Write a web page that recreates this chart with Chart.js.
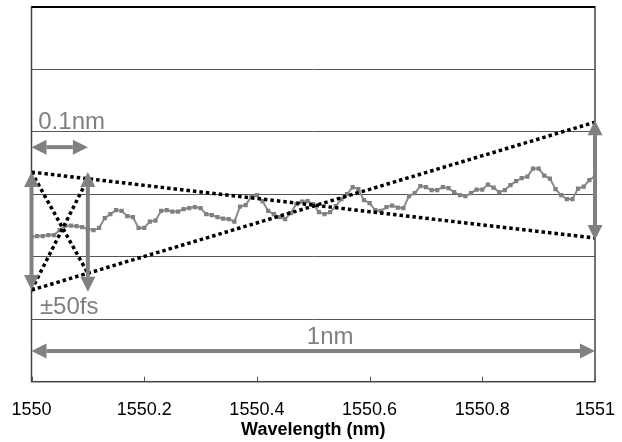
<!DOCTYPE html>
<html>
<head>
<meta charset="utf-8">
<script src="https://cdn.jsdelivr.net/npm/chart.js@4.4.0/dist/chart.umd.min.js"></script>
<style>
  html, body { margin: 0; padding: 0; background: #fff; }
</style>
</head>
<body>
<canvas id="chart" width="622" height="442"></canvas>
<script>
// measured group delay (fs) vs wavelength (nm)
const wavelengths = [
  1550.00, 1550.01, 1550.02, 1550.03, 1550.04, 1550.05, 1550.06, 1550.07, 1550.08, 1550.09,
  1550.10, 1550.11, 1550.12, 1550.13, 1550.14, 1550.15, 1550.16, 1550.17, 1550.18, 1550.19,
  1550.20, 1550.21, 1550.22, 1550.23, 1550.24, 1550.25, 1550.26, 1550.27, 1550.28, 1550.29,
  1550.30, 1550.31, 1550.32, 1550.33, 1550.34, 1550.35, 1550.36, 1550.37, 1550.38, 1550.39,
  1550.40, 1550.41, 1550.42, 1550.43, 1550.44, 1550.45, 1550.46, 1550.47, 1550.48, 1550.49,
  1550.50, 1550.51, 1550.52, 1550.53, 1550.54, 1550.55, 1550.56, 1550.57, 1550.58, 1550.59,
  1550.60, 1550.61, 1550.62, 1550.63, 1550.64, 1550.65, 1550.66, 1550.67, 1550.68, 1550.69,
  1550.70, 1550.71, 1550.72, 1550.73, 1550.74, 1550.75, 1550.76, 1550.77, 1550.78, 1550.79,
  1550.80, 1550.81, 1550.82, 1550.83, 1550.84, 1550.85, 1550.86, 1550.87, 1550.88, 1550.89,
  1550.90, 1550.91, 1550.92, 1550.93, 1550.94, 1550.95, 1550.96, 1550.97, 1550.98, 1550.99,
  1551.00
];
const delay = [
  -34.2, -33.4, -33.4, -32.6, -32.6, -28.6, -25.1, -25.1, -25.5, -26.2,
  -27.8, -28.6, -26.9, -19.0, -15.8, -12.6, -13.3, -17.4, -18.2, -26.9,
  -26.9, -21.8, -21.0, -13.3, -12.6, -13.8, -13.8, -11.8, -11.0, -10.2,
  -11.0, -15.8, -16.6, -18.2, -19.4, -19.8, -21.8, -9.8, -8.6, -1.8,
  -0.6, -5.4, -13.3, -15.8, -18.2, -19.8, -15.0, -7.8, -5.8, -5.4,
  -7.8, -14.2, -15.8, -14.2, -9.4, -3.8, 0.2, 5.8, 4.2, -4.6,
  -7.0, -12.6, -13.3, -10.2, -9.0, -10.6, -11.0, -1.4, 1.0, 6.6,
  5.8, 3.4, 3.4, 5.8, 5.0, 1.8, -0.6, -1.4, 1.0, 3.8,
  3.8, 7.8, 5.4, 1.8, 3.4, 7.4, 10.6, 13.0, 14.2, 20.6,
  20.6, 15.0, 12.6, 4.2, -0.6, -3.8, -3.8, 4.6, 6.2, 11.4,
  14.6
];

// dotted limit lines (x in nm, y in fs)
const fallX = [1550, 1551];
const fallY = [17.8, -35.0];
const riseX = [1550, 1551];
const riseY = [-76.6, 57.8];
const crossAX = [1550, 1550.1];
const crossAY = [17.8, -63.2];
const crossBX = [1550, 1550.1];
const crossBY = [-76.6, 12.5];

// double arrows: [x1, y1, x2, y2] in data units
const arrows = [
  [1550, 17.8, 1550, -76.6],
  [1550.1, 17.8, 1550.1, -78],
  [1551, 59.4, 1551, -36.6],
  [1550, 37.8, 1550.1, 37.8],
  [1550, -125.4, 1551, -125.4]
];
const noteText = ['0.1nm', '\u00b150fs', '1nm'];
const noteX = [1550.012, 1550.015, 1550.53];
const noteY = [57.8, -90.2, -114.2];

function pts(xs, ys) {
  return xs.map((v, i) => ({ x: v, y: ys[i] }));
}

function drawArrow(ctx, x1, y1, x2, y2) {
  const head = 15, half = 7.5;
  const ang = Math.atan2(y2 - y1, x2 - x1);
  const cos = Math.cos(ang), sin = Math.sin(ang);
  ctx.beginPath();
  ctx.moveTo(x1 + cos * head, y1 + sin * head);
  ctx.lineTo(x2 - cos * head, y2 - sin * head);
  ctx.stroke();
  // heads
  [[x1, y1, 1], [x2, y2, -1]].forEach(([px, py, d]) => {
    const bx = px + cos * head * d, by = py + sin * head * d;
    ctx.beginPath();
    ctx.moveTo(px, py);
    ctx.lineTo(bx - sin * half, by + cos * half);
    ctx.lineTo(bx + sin * half, by - cos * half);
    ctx.closePath();
    ctx.fill();
  });
}

const overlay = {
  id: 'overlay',
  afterDatasetsDraw(chart) {
    const { ctx, chartArea: a, scales: { x, y } } = chart;
    ctx.save();
    // frame
    ctx.strokeStyle = '#444';
    ctx.lineWidth = 1.5;
    ctx.strokeRect(a.left, a.top, a.right - a.left, a.bottom - a.top);
    ctx.strokeStyle = '#000';
    ctx.lineWidth = 2;
    ctx.beginPath();
    ctx.moveTo(a.left, a.top);
    ctx.lineTo(a.right, a.top);
    ctx.stroke();
    // inward tick marks on the x axis
    ctx.strokeStyle = '#555';
    ctx.lineWidth = 1;
    x.ticks.forEach(t => {
      const px = Math.round(x.getPixelForValue(t.value)) + 0.5;
      ctx.beginPath();
      ctx.moveTo(px, a.bottom);
      ctx.lineTo(px, a.bottom - 5);
      ctx.stroke();
    });
    // arrows
    ctx.strokeStyle = '#808080';
    ctx.fillStyle = '#808080';
    ctx.lineWidth = 4;
    arrows.forEach(([x1, y1, x2, y2]) => {
      drawArrow(ctx,
        x.getPixelForValue(x1), y.getPixelForValue(y1),
        x.getPixelForValue(x2), y.getPixelForValue(y2));
    });
    // notes
    ctx.font = '24px "Liberation Sans", Arial, sans-serif';
    ctx.textBaseline = 'middle';
    noteText.forEach((txt, i) => {
      ctx.textAlign = i === 2 ? 'center' : 'left';
      ctx.fillText(txt, x.getPixelForValue(noteX[i]), y.getPixelForValue(noteY[i]));
    });
    ctx.restore();
  }
};

const dotted = {
  borderColor: '#000',
  borderWidth: 3.5,
  borderDash: [3.5, 3],
  pointRadius: 0,
  fill: false
};

new Chart(document.getElementById('chart'), {
  type: 'line',
  data: {
    datasets: [
      Object.assign({ label: 'fall', data: pts(fallX, fallY) }, dotted),
      Object.assign({ label: 'rise', data: pts(riseX, riseY) }, dotted),
      Object.assign({ label: 'crossA', data: pts(crossAX, crossAY) }, dotted),
      Object.assign({ label: 'crossB', data: pts(crossBX, crossBY) }, dotted),
      {
        label: 'Group delay',
        data: pts(wavelengths, delay),
        borderColor: '#8c8c8c',
        borderWidth: 2,
        pointStyle: 'rect',
        pointRadius: 3,
        pointBackgroundColor: '#808080',
        pointBorderWidth: 0,
        tension: 0
      }
    ]
  },
  options: {
    responsive: false,
    animation: false,
    devicePixelRatio: 1,
    layout: { padding: { left: 31.5, right: 27, top: 7, bottom: 0 } },
    plugins: {
      legend: { display: false },
      tooltip: { enabled: false }
    },
    scales: {
      x: {
        type: 'linear',
        min: 1550,
        max: 1551,
        grid: { display: false, drawTicks: false },
        border: { display: false },
        ticks: {
          stepSize: 0.2,
          padding: 18,
          color: '#000',
          font: { family: '"Liberation Sans", Arial, sans-serif', size: 18 },
          maxRotation: 0,
          callback: v => String(Number(v.toFixed(1)))
        },
        title: {
          display: true,
          text: 'Wavelength (nm)',
          color: '#000',
          padding: { top: 1, bottom: 1 },
          font: { family: '"Liberation Sans", Arial, sans-serif', size: 18, weight: 'bold' }
        },
        afterFit: s => {
          s.height = 60.3;
          s.paddingLeft = 0;
          s.paddingRight = 0;
        }
      },
      y: {
        min: -150,
        max: 150,
        grid: { color: '#555', lineWidth: 1, drawTicks: false },
        border: { display: false },
        ticks: { display: false, stepSize: 50 },
        afterFit: s => { s.width = 0; }
      }
    }
  },
  plugins: [overlay]
});
</script>
</body>
</html>
